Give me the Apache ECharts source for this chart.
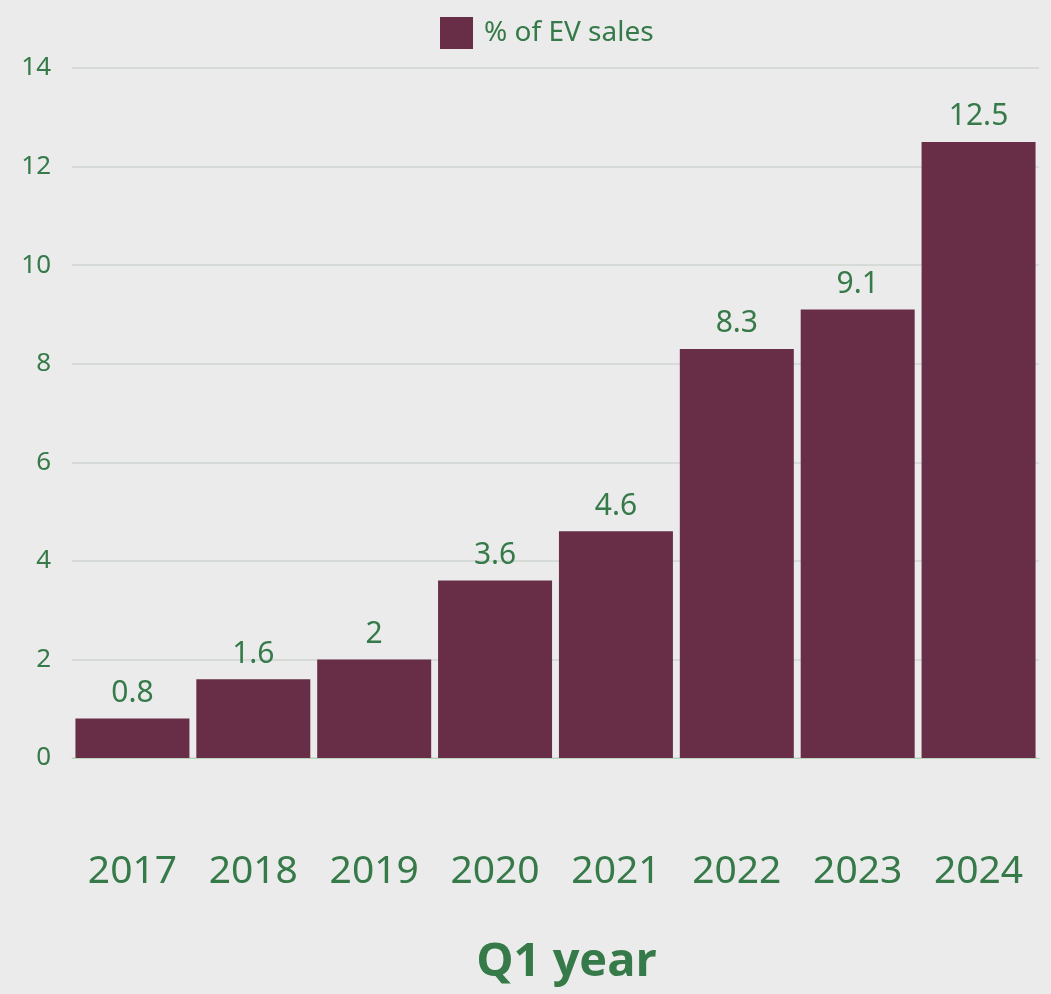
<!DOCTYPE html>
<html>
<head>
<meta charset="utf-8">
<script src="https://cdn.jsdelivr.net/npm/echarts@6/dist/echarts.min.js"></script>
<style>
html,body{margin:0;padding:0;background:#ebebeb;}
#chart{width:1051px;height:994px;}
</style>
</head>
<body>
<div id="chart"></div>
<script>
const categories = ['2017','2018','2019','2020','2021','2022','2023','2024'];
const evShare = [0.8, 1.6, 2, 3.6, 4.6, 8.3, 9.1, 12.5];
const seriesName = '% of EV sales';
const xAxisTitle = 'Q1 year';

const green = '#357a48';
const chart = echarts.init(document.getElementById('chart'));
chart.setOption({
  backgroundColor: '#ebebeb',
  animation: false,
  legend: {
    top: 12,
    left: 435,
    icon: 'rect',
    itemWidth: 33,
    itemHeight: 32,
    itemGap: 10,
    data: [seriesName],
    textStyle: {color: green, fontSize: 28, padding: [0, 0, 0, 6], fontFamily: 'Noto Sans, sans-serif'}
  },
  grid: {left: 72, right: 12, top: 68, bottom: 236, containLabel: false},
  xAxis: {
    type: 'category',
    data: categories,
    name: xAxisTitle,
    nameLocation: 'middle',
    nameGap: 181,
    nameTextStyle: {color: green, fontSize: 47, fontWeight: 'bold', padding: [0, 0, 0, 22], fontFamily: 'Open Sans, Noto Sans, sans-serif'},
    axisLine: {lineStyle: {color: '#b9d3bf', width: 1}},
    axisTick: {show: false},
    axisLabel: {color: green, fontSize: 39, margin: 94, fontFamily: 'Noto Sans, sans-serif'}
  },
  yAxis: {
    type: 'value',
    min: 0, max: 14, interval: 2,
    axisLine: {show: false},
    axisTick: {show: false},
    splitLine: {lineStyle: {color: '#d6dbd8', width: 2}},
    axisLabel: {color: green, fontSize: 26, margin: 21, fontFamily: 'Noto Sans, sans-serif'}
  },
  series: [{
    name: seriesName,
    type: 'bar',
    data: evShare,
    barCategoryGap: '5.7%',
    itemStyle: {color: '#692e47'},
    label: {show: true, position: 'top', distance: 10, color: green, fontSize: 30, fontFamily: 'Noto Sans, sans-serif'}
  }]
});
</script>
</body>
</html>
